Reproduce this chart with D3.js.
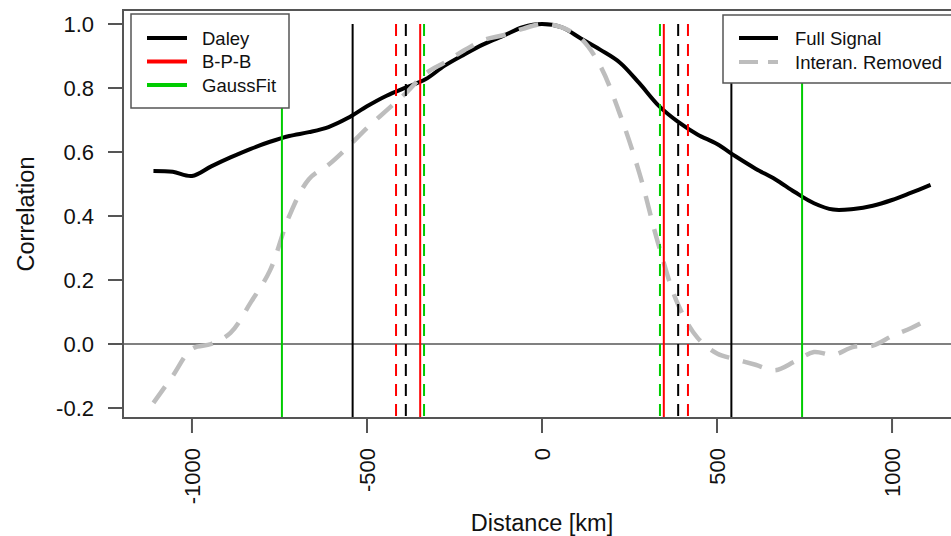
<!DOCTYPE html>
<html>
<head>
<meta charset="utf-8">
<script src="https://cdn.jsdelivr.net/npm/d3@7"></script>
<style>
  body { margin: 0; background: #fff; }
  svg { display: block; font-family: "Liberation Sans", Arial, sans-serif; }
</style>
</head>
<body>
<svg id="chart" width="951" height="536"></svg>
<script>
// distance lags (km)
var distances = [-1110, -1055, -1000, -945, -890, -832, -777, -722, -666, -610,
  -555, -500, -444, -388, -333, -278, -222, -166, -111, -55, 0,
  55, 111, 166, 222, 278, 333, 388, 444, 500, 555, 610, 666, 722, 777,
  832, 890, 945, 1000, 1055, 1110];

// correlation, full signal
var fullSignal = [0.541, 0.538, 0.525, 0.555, 0.583, 0.61, 0.632, 0.65, 0.662, 0.678,
  0.706, 0.743, 0.776, 0.802, 0.827, 0.87, 0.905, 0.937, 0.963, 0.99, 1.0,
  0.99, 0.955, 0.92, 0.88, 0.815, 0.745, 0.695, 0.655, 0.625, 0.585, 0.548, 0.515, 0.475, 0.44,
  0.42, 0.422, 0.432, 0.45, 0.473, 0.497];

// correlation, interannual signal removed
var interanRemoved = [-0.184, -0.1, -0.015, 0.0, 0.035, 0.13, 0.23, 0.4, 0.515, 0.56,
  0.615, 0.675, 0.73, 0.785, 0.845, 0.88, 0.918, 0.95, 0.965, 0.985, 1.0,
  0.99, 0.955, 0.87, 0.72, 0.535, 0.31, 0.125, 0.02, -0.03, -0.048, -0.065, -0.082, -0.055, -0.025,
  -0.034, -0.009, -0.005, 0.025, 0.05, 0.081];

// length scales (km), drawn symmetric at +/-
var scaleNames = ['Daley', 'B-P-B', 'GaussFit'];
var scaleColors = ['#000000', '#ff0000', '#00cc00'];
var scalesFull = [541, 348, 743];
var scalesRemoved = [389, 417, 337];

var xTicks = [-1000, -500, 0, 500, 1000];
var xTickLabels = ['-1000', '-500', '0', '500', '1000'];
var yTicks = [-0.2, 0, 0.2, 0.4, 0.6, 0.8, 1.0];
var yTickLabels = ['-0.2', '0.0', '0.2', '0.4', '0.6', '0.8', '1.0'];

var seriesNames = ['Full Signal', 'Interan. Removed'];

var svg = d3.select('#chart');
var margin = { top: 10, left: 123, bottom: 118 };
var plotBottom = 536 - margin.bottom;

var xScale = d3.scaleLinear().domain([-1197, 1197]).range([margin.left, 961]);
var yScale = d3.scaleLinear().domain([-0.2313, 1.0438]).range([plotBottom, margin.top]);

svg.append('clipPath').attr('id', 'plotclip')
  .append('rect')
    .attr('x', xScale.range()[0]).attr('y', margin.top)
    .attr('width', xScale.range()[1] - xScale.range()[0])
    .attr('height', plotBottom - margin.top);

var plotG = svg.append('g').attr('clip-path', 'url(#plotclip)');

// zero line
plotG.append('line')
  .attr('x1', xScale.range()[0]).attr('x2', xScale.range()[1])
  .attr('y1', yScale(0)).attr('y2', yScale(0))
  .attr('stroke', '#808080').attr('stroke-width', 2);

var line = d3.line()
  .x(function (d) { return xScale(d[0]); })
  .y(function (d) { return yScale(d[1]); })
  .curve(d3.curveCatmullRom.alpha(0.5));

plotG.append('path')
  .datum(d3.zip(distances, fullSignal))
  .attr('d', line)
  .attr('fill', 'none')
  .attr('stroke', '#000')
  .attr('stroke-width', 4)
  .attr('stroke-linejoin', 'round');

plotG.append('path')
  .datum(d3.zip(distances, interanRemoved))
  .attr('d', line)
  .attr('fill', 'none')
  .attr('stroke', '#bdbdbd')
  .attr('stroke-width', 4.5)
  .attr('stroke-dasharray', '20,14');

// vertical length-scale markers
var vlines = [];
scaleNames.forEach(function (name, i) {
  [-1, 1].forEach(function (s) {
    vlines.push({ x: s * scalesFull[i], color: scaleColors[i], dashed: false });
    vlines.push({ x: s * scalesRemoved[i], color: scaleColors[i], dashed: true });
  });
});

plotG.selectAll('line.vl').data(vlines)
  .enter().append('line')
    .attr('class', 'vl')
    .attr('x1', function (d) { return xScale(d.x); })
    .attr('x2', function (d) { return xScale(d.x); })
    .attr('y1', yScale(1.0))
    .attr('y2', plotBottom)
    .attr('stroke', function (d) { return d.color; })
    .attr('stroke-width', 2)
    .attr('stroke-dasharray', function (d) { return d.dashed ? '12,8' : null; });

// box
svg.append('rect')
  .attr('x', xScale.range()[0]).attr('y', margin.top)
  .attr('width', xScale.range()[1] - xScale.range()[0])
  .attr('height', plotBottom - margin.top)
  .attr('fill', 'none').attr('stroke', '#555').attr('stroke-width', 2);

// y axis
var yAxisG = svg.append('g');
yAxisG.selectAll('line').data(yTicks).enter().append('line')
  .attr('x1', margin.left - 15).attr('x2', margin.left)
  .attr('y1', function (d) { return yScale(d); })
  .attr('y2', function (d) { return yScale(d); })
  .attr('stroke', '#555').attr('stroke-width', 2);
yAxisG.selectAll('text').data(yTicks).enter().append('text')
  .attr('x', 94)
  .attr('y', function (d) { return yScale(d); })
  .attr('dy', '0.36em')
  .attr('text-anchor', 'end')
  .attr('font-size', 22)
  .attr('fill', '#111')
  .text(function (d, i) { return yTickLabels[i]; });

// x axis
var xAxisG = svg.append('g');
xAxisG.selectAll('line').data(xTicks).enter().append('line')
  .attr('x1', function (d) { return xScale(d); })
  .attr('x2', function (d) { return xScale(d); })
  .attr('y1', plotBottom).attr('y2', plotBottom + 15)
  .attr('stroke', '#555').attr('stroke-width', 2);
xAxisG.selectAll('text').data(xTicks).enter().append('text')
  .attr('transform', function (d) {
    return 'translate(' + xScale(d) + ',' + (plotBottom + 30) + ') rotate(-90)';
  })
  .attr('dy', '0.36em')
  .attr('text-anchor', 'end')
  .attr('font-size', 22)
  .attr('fill', '#111')
  .text(function (d, i) { return xTickLabels[i]; });

svg.append('text')
  .attr('x', 542).attr('y', 531)
  .attr('text-anchor', 'middle')
  .attr('font-size', 23.5)
  .attr('fill', '#111')
  .text('Distance [km]');

svg.append('text')
  .attr('transform', 'translate(34,214) rotate(-90)')
  .attr('text-anchor', 'middle')
  .attr('font-size', 23.5)
  .attr('fill', '#111')
  .text('Correlation');

// legend: methods
var leg1 = svg.append('g').attr('transform', 'translate(131,14)');
leg1.append('rect')
  .attr('width', 158).attr('height', 94)
  .attr('fill', '#fff').attr('stroke', '#555').attr('stroke-width', 1.5);
scaleNames.forEach(function (name, i) {
  var cy = 24 + i * 23.5;
  leg1.append('line')
    .attr('x1', 16).attr('x2', 56).attr('y1', cy).attr('y2', cy)
    .attr('stroke', scaleColors[i]).attr('stroke-width', 4);
  leg1.append('text')
    .attr('x', 71).attr('y', cy).attr('dy', '0.36em')
    .attr('font-size', 18.5).attr('fill', '#111')
    .text(name);
});

// legend: signals
var leg2 = svg.append('g').attr('transform', 'translate(723,15)');
leg2.append('rect')
  .attr('width', 240).attr('height', 68)
  .attr('fill', '#fff').attr('stroke', '#555').attr('stroke-width', 1.5);
seriesNames.forEach(function (name, i) {
  var cy = 23 + i * 24;
  leg2.append('line')
    .attr('x1', 16).attr('x2', 55).attr('y1', cy).attr('y2', cy)
    .attr('stroke', i === 0 ? '#000' : '#bdbdbd')
    .attr('stroke-width', 4)
    .attr('stroke-dasharray', i === 0 ? null : '19,10');
  leg2.append('text')
    .attr('x', 72).attr('y', cy).attr('dy', '0.36em')
    .attr('font-size', 18.5).attr('fill', '#111')
    .text(name);
});
</script>
</body>
</html>
